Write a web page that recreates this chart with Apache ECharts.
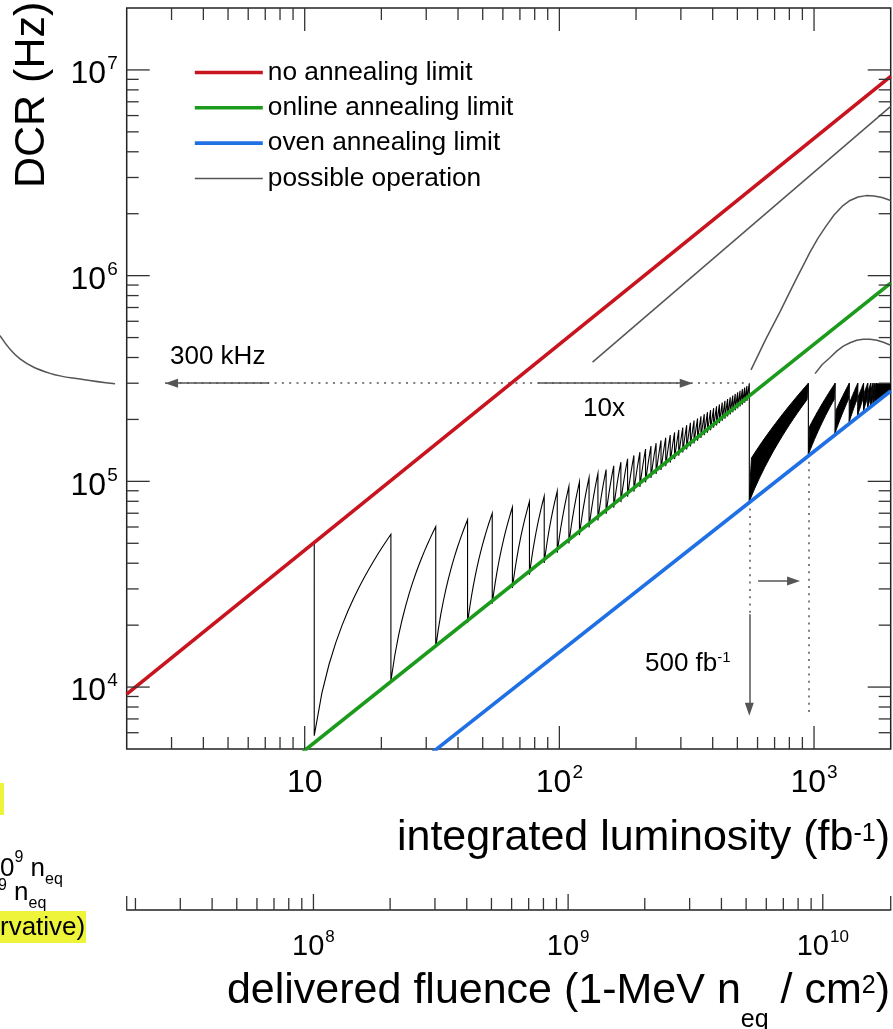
<!DOCTYPE html>
<html>
<head>
<meta charset="utf-8">
<title>DCR vs integrated luminosity</title>
<script src="https://cdn.jsdelivr.net/npm/echarts@6.0.0/dist/echarts.min.js"></script>
<style>
html,body{margin:0;padding:0;background:#ffffff;}
#chart{width:893px;height:1029px;}
</style>
</head>
<body>
<div id="chart"></div>
<script>
// ===================== DATA =====================
const lumiRange = [2, 2000];                  // integrated luminosity (fb^-1)
const dcrRange = [5000, 2e7];                 // DCR (Hz)
const fluenceRange = [1.848e7, 1.848e10];     // delivered fluence (1-MeV neq / cm^2)

const lumiMajorTicks = [10, 100, 1000];
const lumiMinorTicks = [3, 4, 5, 6, 7, 8, 9, 20, 30, 40, 50, 60, 70, 80, 90, 200, 300, 400, 500, 600, 700, 800, 900];
const lumiTickLabels = ['10', '10^2', '10^3'];

const dcrMajorTicks = [1e4, 1e5, 1e6, 1e7];
const dcrMinorTicks = [6e3, 7e3, 8e3, 9e3, 2e4, 3e4, 4e4, 5e4, 6e4, 7e4, 8e4, 9e4, 2e5, 3e5, 4e5, 5e5, 6e5, 7e5, 8e5, 9e5, 2e6, 3e6, 4e6, 5e6, 6e6, 7e6, 8e6, 9e6];
const dcrTickLabels = ['10^4', '10^5', '10^6', '10^7'];

const fluenceMajorTicks = [1e8, 1e9, 1e10];
const fluenceMinorTicks = [2e7, 3e7, 4e7, 5e7, 6e7, 7e7, 8e7, 9e7, 2e8, 3e8, 4e8, 5e8, 6e8, 7e8, 8e8, 9e8, 2e9, 3e9, 4e9, 5e9, 6e9, 7e9, 8e9, 9e9];
const fluenceTickLabels = ['10^8', '10^9', '10^10'];

// limit lines [fb^-1, Hz]
const noAnnealingLimit = [[2, 9250], [2000, 9.3e6]];
const onlineAnnealingLimit = [[9.85, 4850], [2000, 9.2e5]];
const ovenAnnealingLimit = [[31.9, 4840], [2000, 2.75e5]];

// possible operation, grey curves [fb^-1, Hz]
const operationA = [[135, 3.8e5], [2000, 6.65e6]];
const operationB = [[565.7, 3.483e5], [642.3, 4.83e5], [735.6, 6.69e5], [842.2, 9.38e5], [964.5, 1.300e6], [1036.8, 1.522e6], [1114.6, 1.741e6], [1198.2, 1.971e6], [1288, 2.169e6], [1384.6, 2.320e6], [1488.4, 2.413e6], [1600, 2.449e6], [1720, 2.441e6], [1849, 2.400e6], [2000, 2.320e6]];
const operationC = [[1009, 3.34e5], [1075, 3.686e5], [1156, 4.0e5], [1231, 4.31e5], [1303, 4.54e5], [1385, 4.72e5], [1471, 4.85e5], [1557, 4.904e5], [1659, 4.91e5], [1767, 4.85e5], [1883, 4.73e5], [2000, 4.59e5]];

// online-annealing cycles: luminosity of each anneal, DCR just before (peak) and just after (floor), kHz
const cycleLumi = [10.9, 21.8, 32.7, 43.6, 54.5, 65.4, 76.3, 87.2, 98.1, 109.0, 119.9, 130.8, 141.7, 152.6, 163.5, 174.4, 185.3, 196.2, 207.1, 218.0, 228.9, 239.8, 250.7, 261.6, 272.5, 283.4, 294.3, 305.2, 316.1, 327.0, 337.9, 348.8, 359.7, 370.6, 381.5, 392.4, 403.3, 414.2, 425.1, 436.0, 446.9, 457.8, 468.7, 479.6, 490.5, 501.4, 512.3, 523.2, 534.1, 545.0, 557.0];
const cyclePeakKHz = [50.7, 55.3, 60.2, 65.1, 70.0, 74.9, 79.8, 84.7, 89.6, 94.5, 99.4, 104.3, 109.2, 114.1, 119.0, 123.9, 128.8, 133.7, 138.6, 143.5, 148.4, 153.3, 158.2, 163.1, 168.0, 172.9, 177.8, 182.7, 187.6, 192.5, 197.4, 202.3, 207.2, 212.1, 217.0, 221.9, 226.8, 231.7, 236.6, 241.5, 246.4, 251.3, 256.2, 261.1, 266.0, 270.9, 275.8, 280.7, 285.6, 290.5, 300];
const cycleFloorKHz = [5.8, 10.7, 15.6, 20.5, 25.4, 30.3, 35.2, 40.1, 45.0, 49.9, 54.8, 59.7, 64.6, 69.5, 74.4, 79.3, 84.2, 89.1, 94.0, 98.9, 103.8, 108.7, 113.6, 118.5, 123.4, 128.3, 133.2, 138.1, 143.0, 147.9, 152.8, 157.7, 162.6, 167.5, 172.4, 177.3, 182.2, 187.1, 192.0, 196.9, 201.8, 206.7, 211.6, 216.5, 221.4, 226.3, 231.2, 236.1, 241.0, 245.9, 80];

// dense online-annealing bands between oven anneals: corners [fb^-1, kHz]
const ovenBands = [
  [[557, 80], [568, 130], [950, 300], [939, 250]],
  [[950, 135], [961, 185], [1210, 300], [1199, 250]],
  [[1210, 172], [1221, 222], [1375, 300], [1364, 250]],
  [[1375, 195], [1386, 245], [1485, 300], [1474, 250]],
  [[1485, 210], [1496, 260], [1565, 300], [1554, 250]],
  [[1565, 221], [1576, 271], [1625, 300], [1614, 250]],
  [[1625, 229], [1636, 279], [1670, 300], [1659, 250]],
  [[1670, 235], [1681, 285], [1705, 300], [1694, 250]],
  [[1705, 240], [1716, 290], [1735, 300], [1724, 250]],
  [[1735, 244], [1746, 294], [1760, 300], [1749, 250]]
];
// oven anneal every cycle at the end
const spikeLumi = [1760, 1771, 1782, 1793, 1803, 1813, 1823, 1833, 1842, 1851, 1860, 1869, 1878, 1886, 1894, 1902, 1910, 1918, 1925, 1932, 1939, 1946, 1953, 1960, 1966, 1972, 1978, 1984, 1990, 1996, 2002];
const spikeFloorKHz = [248, 249, 251, 252, 254, 255, 256, 258, 259, 260, 261, 263, 264, 265, 266, 267, 268, 269, 270, 271, 272, 273, 274, 275, 276, 277, 277, 278, 279, 280, 281];
const rateLimitKHz = 300;

// curve of the neighbouring panel (cut off at the left edge) [relative x, Hz]
const neighbourCurve = [[0, 5.11e5], [0.158, 3.94e5], [0.395, 3.35e5], [0.655, 3.13e5], [0.908, 2.98e5]];

// ===================== STYLE =====================
const FONT = 'Liberation Sans, Arial, Helvetica, sans-serif';
const RED = '#c8141e', GREEN = '#1b9a1b', BLUE = '#1f6fe5', GREY = '#555555', INK = '#000000';
const YELLOW = '#eef43a';
const GRID = { left: 126.7, top: 8, width: 764, height: 741 };

function supLabel(str) {
  const parts = str.split('^');
  return parts[1] ? '{m|' + parts[0] + '}{s|' + parts[1] + '}' : '{m|' + parts[0] + '}';
}
function tickFormatter(ticks, labels) {
  return function (v) {
    const i = ticks.findIndex(t => Math.abs(Math.log10(t) - Math.log10(v)) < 1e-6);
    return i < 0 ? '' : supLabel(labels[i]);
  };
}
function supRich(fs, ss) {
  return {
    m: { fontSize: fs, lineHeight: fs + 8, fontFamily: FONT, color: INK, verticalAlign: 'top', padding: [4, 0, 0, 0] },
    s: { fontSize: ss, lineHeight: ss, fontFamily: FONT, color: INK, verticalAlign: 'top', padding: [0, 0, 0, 1] }
  };
}
// text runs with super/subscripts: every piece placed on its own baseline
const measureCtx = document.createElement('canvas').getContext('2d');
function textWidth(t, fs) { measureCtx.font = fs + 'px ' + FONT; return measureCtx.measureText(t).width; }
function textRun(pieces, x, align) {
  const widths = pieces.map(p => textWidth(p.t, p.fs));
  const total = widths.reduce((a, b) => a + b, 0);
  let cx = align === 'right' ? x - total : x;
  return pieces.map((p, i) => {
    const el = { type: 'text', x: cx, y: p.base - 0.3465 * p.fs, z: p.z || 100,
      style: { text: p.t, fontSize: p.fs, fontFamily: FONT, fill: INK, align: 'left', verticalAlign: 'middle' } };
    cx += widths[i];
    return el;
  });
}

// ----- custom renderers -----
function renderMainTicks(params, api) {
  const cs = params.coordSys;
  const left = cs.x, right = cs.x + cs.width, top = cs.y, bottom = cs.y + cs.height;
  const kids = [];
  const seg = (x1, y1, x2, y2) => kids.push({ type: 'line', shape: { x1, y1, x2, y2 }, style: { stroke: '#333', lineWidth: 1.3 } });
  const MAJ = 23, MIN = 12;
  lumiMajorTicks.forEach(v => { const x = api.coord([v, dcrRange[0]])[0]; seg(x, bottom, x, bottom - MAJ); seg(x, top, x, top + MAJ); });
  lumiMinorTicks.forEach(v => { const x = api.coord([v, dcrRange[0]])[0]; seg(x, bottom, x, bottom - MIN); seg(x, top, x, top + MIN); });
  dcrMajorTicks.forEach(v => { const y = api.coord([lumiRange[0], v])[1]; seg(left, y, left + MAJ, y); seg(right, y, right - MAJ, y); });
  dcrMinorTicks.forEach(v => { const y = api.coord([lumiRange[0], v])[1]; seg(left, y, left + MIN, y); seg(right, y, right - MIN, y); });
  return { type: 'group', children: kids };
}
function renderFluenceTicks(params, api) {
  const cs = params.coordSys;
  const base = cs.y + cs.height;
  const kids = [];
  const seg = (x1, y1, x2, y2) => kids.push({ type: 'line', shape: { x1, y1, x2, y2 }, style: { stroke: '#333', lineWidth: 1.3 } });
  fluenceMajorTicks.forEach(v => { const x = api.coord([v, 0])[0]; seg(x, base, x, base - 16); });
  fluenceMinorTicks.forEach(v => { const x = api.coord([v, 0])[0]; seg(x, base, x, base - 12); });
  fluenceRange.forEach(v => { const x = api.coord([v, 0])[0]; seg(x, base, x, base - 14); });
  return { type: 'group', children: kids };
}
// straight segments in linear data space, drawn through the log axes
function renderSawtooth(params, api) {
  const px = (p) => api.coord([p[0], p[1] * 1000]);
  const run = (out, a, b) => {
    const n = a[0] === b[0] ? 1 : 14;
    for (let i = 1; i <= n; i++) {
      const t = i / n;
      out.push(px([a[0] + (b[0] - a[0]) * t, a[1] + (b[1] - a[1]) * t]));
    }
  };
  const kids = [];
  const thin = { stroke: INK, lineWidth: 1.1, fill: null };
  const v = [];
  for (let k = 0; k < cycleLumi.length; k++) { v.push([cycleLumi[k], cyclePeakKHz[k]]); v.push([cycleLumi[k], cycleFloorKHz[k]]); }
  const pts = [px(v[0])];
  for (let i = 1; i < v.length; i++) run(pts, v[i - 1], v[i]);
  kids.push({ type: 'polyline', shape: { points: pts }, style: thin });
  ovenBands.forEach((band, i) => {
    const p = [px(band[0])];
    for (let j = 1; j <= band.length; j++) run(p, band[j - 1], band[j % band.length]);
    kids.push({ type: 'polygon', shape: { points: p }, style: { fill: INK, stroke: INK, lineWidth: 1 } });
    const nextFloor = i + 1 < ovenBands.length ? ovenBands[i + 1][0][1] : spikeFloorKHz[0];
    const a = px([band[2][0], rateLimitKHz]), b = px([band[2][0], nextFloor]);
    kids.push({ type: 'line', shape: { x1: a[0], y1: a[1], x2: b[0], y2: b[1] }, style: thin });
  });
  const s = [px([spikeLumi[0], spikeFloorKHz[0]])];
  for (let j = 1; j < spikeLumi.length; j++) {
    run(s, [spikeLumi[j - 1], spikeFloorKHz[j - 1]], [spikeLumi[j], rateLimitKHz]);
    s.push(px([spikeLumi[j], spikeFloorKHz[j]]));
  }
  kids.push({ type: 'polyline', shape: { points: s }, style: thin });
  return { type: 'group', children: kids };
}

// ===================== CHART =====================
const chart = echarts.init(document.getElementById('chart'), null, { renderer: 'canvas' });
const dotted = { type: [2, 5.3], color: GREY, width: 1.5 };
const solid = { type: 'solid', color: GREY, width: 1.5 };

const graphicTexts = [].concat(
  [{ type: 'text', x: 31.8, y: 188, rotation: Math.PI / 2, z: 100,
     style: { text: 'DCR (Hz)', fontSize: 43, fontFamily: FONT, fill: INK, align: 'left', verticalAlign: 'middle' } }],
  textRun([{ t: 'integrated luminosity (fb', fs: 43, base: 853 }, { t: '-1', fs: 25, base: 843 }, { t: ')', fs: 43, base: 853 }], 890, 'right'),
  textRun([{ t: 'delivered fluence (1-MeV n', fs: 43, base: 1006 }, { t: 'eq', fs: 25, base: 1029 },
           { t: ' / cm', fs: 43, base: 1006 }, { t: '2', fs: 25, base: 995 }, { t: ')', fs: 43, base: 1006 }], 890, 'right'),
  textRun([{ t: '300 kHz', fs: 26, base: 366 }], 170, 'left'),
  textRun([{ t: '10x', fs: 26, base: 418 }], 583, 'left'),
  textRun([{ t: '500 fb', fs: 26, base: 673 }, { t: '-1', fs: 15, base: 663 }], 645, 'left'),
  // fragments of the neighbouring panel, cut at the left edge
  [{ type: 'rect', shape: { x: 0, y: 783, width: 4, height: 32 }, style: { fill: YELLOW }, z: 100 }],
  textRun([{ t: '0', fs: 26, base: 878 }, { t: '9', fs: 16, base: 863 }, { t: ' n', fs: 26, base: 878 }, { t: 'eq', fs: 16, base: 885.5 }], 0, 'left'),
  textRun([{ t: '9', fs: 16, base: 891 }, { t: ' n', fs: 26, base: 902 }, { t: 'eq', fs: 16, base: 909.5 }], -2, 'left'),
  [{ type: 'rect', shape: { x: 0, y: 911, width: 86, height: 32 }, style: { fill: YELLOW }, z: 101 }],
  textRun([{ t: 'rvative)', fs: 26, base: 937, z: 102 }], 0, 'left')
);

const option = {
  animation: false,
  backgroundColor: '#ffffff',
  textStyle: { fontFamily: FONT },
  grid: [
    { left: GRID.left, top: GRID.top, width: GRID.width, height: GRID.height, show: true, borderColor: '#222', borderWidth: 1.5, backgroundColor: 'transparent' },
    { left: GRID.left, top: 909, width: GRID.width, height: 1, show: false },
    { left: 0, top: GRID.top, width: GRID.left, height: GRID.height, show: false }
  ],
  xAxis: [
    {
      gridIndex: 0, type: 'log', logBase: 10, min: lumiRange[0], max: lumiRange[1],
      axisLine: { show: false }, axisTick: { show: false }, splitLine: { show: false }, minorTick: { show: false },
      axisLabel: { show: true, margin: 14.5, showMinLabel: false, showMaxLabel: false,
        formatter: tickFormatter(lumiMajorTicks, lumiTickLabels), rich: supRich(32, 19) }
    },
    {
      gridIndex: 1, type: 'log', logBase: 10, min: fluenceRange[0], max: fluenceRange[1], position: 'bottom',
      axisLine: { show: true, lineStyle: { color: '#222', width: 1.5 } }, axisTick: { show: false }, splitLine: { show: false },
      axisLabel: { show: true, margin: 18.5, showMinLabel: false, showMaxLabel: false,
        formatter: tickFormatter(fluenceMajorTicks, fluenceTickLabels), rich: supRich(29, 17) }
    },
    { gridIndex: 2, type: 'value', min: 0, max: 1, show: false }
  ],
  yAxis: [
    {
      gridIndex: 0, type: 'log', logBase: 10, min: dcrRange[0], max: dcrRange[1],
      axisLine: { show: false }, axisTick: { show: false }, splitLine: { show: false },
      axisLabel: { show: true, margin: 9, showMinLabel: false, showMaxLabel: false, padding: [9, 0, 0, 0],
        formatter: tickFormatter(dcrMajorTicks, dcrTickLabels), rich: supRich(32, 19) }
    },
    { gridIndex: 1, type: 'value', min: 0, max: 1, show: false },
    { gridIndex: 2, type: 'log', min: dcrRange[0], max: dcrRange[1], show: false }
  ],
  legend: {
    data: [
      { name: 'no annealing limit', lineStyle: { width: 3.6, color: RED } },
      { name: 'online annealing limit', lineStyle: { width: 3.6, color: GREEN } },
      { name: 'oven annealing limit', lineStyle: { width: 3.6, color: BLUE } },
      { name: 'possible operation', lineStyle: { width: 1.5, color: GREY } }
    ],
    orient: 'vertical', left: 188, top: 54.5, itemWidth: 68, itemHeight: 26, itemGap: 9.3,
    selectedMode: false, itemStyle: { opacity: 0 },
    textStyle: { fontSize: 26.3, color: INK, fontFamily: FONT }
  },
  series: [
    {
      name: 'possible operation', type: 'line', xAxisIndex: 0, yAxisIndex: 0, data: operationA,
      symbol: 'none', showSymbol: false, clip: true, z: 3, lineStyle: { color: GREY, width: 1.5 }, itemStyle: { color: GREY },
      markLine: {
        silent: true, symbol: ['none', 'triangle'], symbolSize: [9, 13], label: { show: false },
        lineStyle: solid, emphasis: { disabled: true },
        data: [
          [{ coord: [2.83, 3e5], symbol: 'none', lineStyle: dotted }, { coord: [557, 3e5], symbol: 'none' }],
          [{ coord: [7.24, 3e5], symbol: 'none', lineStyle: solid }, { coord: [3.0, 3e5], symbol: 'triangle' }],
          [{ coord: [82.4, 3e5], symbol: 'none', lineStyle: solid }, { coord: [315, 3e5], symbol: 'triangle' }],
          [{ coord: [557, 8e4], symbol: 'none', lineStyle: dotted }, { coord: [557, 2.26e4], symbol: 'none' }],
          [{ coord: [557, 2.26e4], symbol: 'none', lineStyle: solid }, { coord: [557, 7810], symbol: 'triangle' }],
          [{ coord: [950, 1.35e5], symbol: 'none', lineStyle: dotted }, { coord: [950, 7260], symbol: 'none' }],
          [{ coord: [603, 3.28e4], symbol: 'none', lineStyle: solid }, { coord: [831, 3.28e4], symbol: 'triangle' }]
        ]
      }
    },
    { name: 'possible operation', type: 'line', xAxisIndex: 0, yAxisIndex: 0, data: operationB,
      symbol: 'none', showSymbol: false, clip: true, z: 3, lineStyle: { color: GREY, width: 1.5 }, itemStyle: { color: GREY } },
    { name: 'possible operation', type: 'line', xAxisIndex: 0, yAxisIndex: 0, data: operationC,
      symbol: 'none', showSymbol: false, clip: true, z: 3, lineStyle: { color: GREY, width: 1.5 }, itemStyle: { color: GREY } },
    { name: 'possible operation', type: 'custom', coordinateSystem: 'cartesian2d', xAxisIndex: 0, yAxisIndex: 0,
      clip: true, silent: true, z: 2, data: [[cycleLumi[0], cyclePeakKHz[0] * 1000]], renderItem: renderSawtooth },
    { name: 'no annealing limit', type: 'line', xAxisIndex: 0, yAxisIndex: 0, data: noAnnealingLimit,
      symbol: 'none', showSymbol: false, clip: true, z: 5, lineStyle: { color: RED, width: 3.6 }, itemStyle: { color: RED } },
    { name: 'online annealing limit', type: 'line', xAxisIndex: 0, yAxisIndex: 0, data: onlineAnnealingLimit,
      symbol: 'none', showSymbol: false, clip: true, z: 5, lineStyle: { color: GREEN, width: 3.6 }, itemStyle: { color: GREEN } },
    { name: 'oven annealing limit', type: 'line', xAxisIndex: 0, yAxisIndex: 0, data: ovenAnnealingLimit,
      symbol: 'none', showSymbol: false, clip: true, z: 5, lineStyle: { color: BLUE, width: 3.6 }, itemStyle: { color: BLUE } },
    { name: 'neighbour panel', type: 'line', xAxisIndex: 2, yAxisIndex: 2, data: neighbourCurve, smooth: 0.4,
      symbol: 'none', showSymbol: false, clip: false, lineStyle: { color: GREY, width: 1.5 } },
    { name: 'axis ticks', type: 'custom', coordinateSystem: 'cartesian2d', xAxisIndex: 0, yAxisIndex: 0, silent: true, z: 6,
      data: [[lumiRange[0], dcrRange[0]]], renderItem: renderMainTicks },
    { name: 'fluence ticks', type: 'custom', coordinateSystem: 'cartesian2d', xAxisIndex: 1, yAxisIndex: 1, silent: true, z: 6,
      data: [[fluenceRange[0], 0]], renderItem: renderFluenceTicks }
  ],
  graphic: { elements: graphicTexts }
};
chart.setOption(option);
</script>
</body>
</html>
